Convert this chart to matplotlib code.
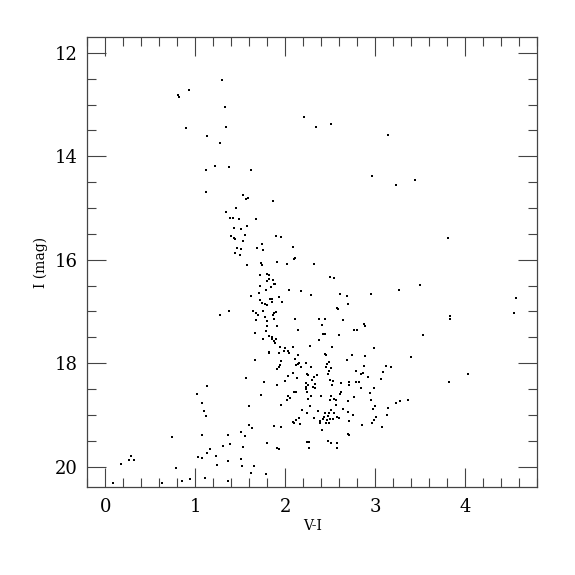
import numpy as np
import matplotlib.pyplot as plt

# colour (V-I) and I magnitude
vi = [
    1.301, 0.930, 0.812, 0.815, 1.330, 0.901, 1.345, 1.134, 1.278, 1.216, 1.119, 1.371,
    2.211, 2.344, 2.511, 1.619, 2.963,
    3.145, 3.445, 3.230,
    1.119, 1.449, 1.338, 1.382, 1.419, 1.434, 1.397, 1.434, 1.445, 1.438, 1.379, 1.278,
    1.533, 1.567, 1.585, 1.859, 1.482, 1.674, 1.507, 1.578, 1.548, 1.896, 1.956, 1.533,
    1.741, 1.463, 1.507, 1.689, 1.752, 2.081, 1.500, 2.107, 2.096, 1.911, 2.019, 2.315,
    1.578, 1.730, 1.741, 1.793, 1.815, 1.722, 1.863, 1.796, 1.819, 1.870, 1.881, 1.722,
    2.500, 2.537, 1.785, 1.837, 2.041, 2.170, 1.619, 1.704, 1.926, 2.285, 2.604, 2.689,
    2.948, 1.833, 1.848, 1.719, 1.848, 1.959, 1.737, 1.774, 1.800, 2.574, 2.589, 2.696,
    1.641, 1.674, 1.700, 1.756, 1.874, 1.896, 1.774, 1.863, 1.674, 1.796, 1.870, 2.111,
    2.374, 2.437, 2.641, 1.793, 1.911, 2.411, 2.870, 2.881, 1.781, 2.141, 2.759, 2.793,
    1.659, 1.815, 1.848, 2.422, 2.444, 2.593,
    3.804, 3.493, 3.260, 4.567, 4.537, 3.834, 3.834, 3.530,
    1.756, 1.848, 1.870, 1.893, 1.882, 2.374, 2.274, 2.519, 1.944, 1.993, 2.026, 2.037,
    1.985, 1.933, 2.089, 1.819, 1.822, 2.137, 2.444, 2.456, 2.741, 2.885, 2.981, 1.667,
    2.107, 1.952, 2.152, 2.141, 2.122, 2.226, 2.685, 2.485, 2.463, 2.448, 2.289, 2.174,
    1.937, 1.926, 1.907, 2.878, 2.781, 2.863, 2.837, 2.504, 2.489, 2.081, 2.237, 2.252,
    2.348, 2.315, 2.300, 2.474, 3.085, 3.115, 1.559, 2.030, 2.130, 2.000, 1.759, 2.533,
    2.496, 2.711, 2.785, 2.822, 2.622, 2.704, 3.067, 2.919, 1.911, 2.326, 2.307, 2.230,
    2.226, 2.252, 2.233, 2.519, 2.837, 2.985, 2.333, 2.093, 2.115, 2.244, 2.619, 2.611,
    2.937, 1.726, 2.026, 2.056, 2.015, 2.252, 2.281, 2.393, 2.507, 2.496, 2.541, 2.563,
    2.759, 2.952, 2.696, 1.948, 1.593, 2.270, 2.567, 2.993, 2.970, 2.181, 2.363, 2.437,
    2.489, 2.537, 2.507, 2.244, 2.637, 2.700, 2.748, 3.130, 2.319, 2.148, 2.122, 2.474,
    2.459, 2.415, 2.433, 2.493, 2.526, 2.578, 2.596, 2.381, 2.385, 2.456, 2.485, 2.707,
    3.007, 2.981, 2.963, 2.085, 2.159, 2.093, 1.870, 1.948, 1.600, 1.633, 2.411, 2.856,
    3.074, 2.696, 2.704, 1.511, 1.548, 1.793, 2.237, 2.263, 2.259, 2.474, 2.507, 2.570,
    2.570, 1.911, 1.926, 1.530, 1.507, 1.522, 1.648, 1.622, 1.785,
    1.130, 1.019, 1.075, 1.093, 1.123, 0.738, 1.075, 1.364, 1.382, 1.312, 1.164, 1.130,
    1.027, 1.075, 1.234, 1.238, 1.360, 0.790, 0.282, 0.267, 0.316, 0.178, 0.082, 0.634,
    0.856, 0.938, 1.104, 1.364,
    3.400, 3.171, 3.815, 4.026, 3.141, 3.230, 3.271, 3.363,
]
imag = [
    12.526, 12.719, 12.822, 12.848, 13.054, 13.454, 13.428, 13.608, 13.737, 14.195, 14.259, 14.207,
    13.241, 13.441, 13.383, 14.259, 14.375,
    13.595, 14.452, 14.555,
    14.691, 15.000, 15.078, 15.187, 15.187, 15.394, 15.535, 15.587, 15.600, 15.877, 16.985, 17.063,
    14.743, 14.820, 14.807, 14.872, 15.213, 15.213, 15.400, 15.349, 15.522, 15.542, 15.568, 15.638,
    15.703, 15.774, 15.787, 15.774, 15.812, 15.748, 15.903, 15.961, 15.986, 16.038, 16.090, 16.090,
    16.109, 16.070, 16.109, 16.276, 16.302, 16.296, 16.392, 16.405, 16.367, 16.470, 16.470, 16.502,
    16.334, 16.354, 16.586, 16.534, 16.579, 16.611, 16.695, 16.650, 16.721, 16.689, 16.657, 16.695,
    16.663, 16.753, 16.753, 16.779, 16.811, 16.818, 16.837, 16.856, 16.882, 16.934, 16.953, 16.863,
    16.985, 17.030, 17.069, 16.985, 17.037, 17.011, 17.114, 17.075, 17.172, 17.185, 17.146, 17.146,
    17.146, 17.146, 17.172, 17.275, 17.275, 17.256, 17.249, 17.288, 17.378, 17.365, 17.352, 17.365,
    17.423, 17.481, 17.488, 17.430, 17.430, 17.462,
    15.580, 16.489, 16.586, 16.747, 17.030, 17.082, 17.140, 17.462,
    17.527, 17.527, 17.578, 17.527, 17.617, 17.546, 17.662, 17.682, 17.694, 17.707, 17.759, 17.797,
    17.772, 17.797, 17.694, 17.785, 17.810, 17.836, 17.823, 17.849, 17.849, 17.868, 17.707, 17.946,
    17.926, 17.965, 17.991, 18.023, 18.029, 17.997, 17.933, 17.978, 18.017, 18.081, 18.081, 18.075,
    18.029, 18.068, 18.107, 18.062, 18.145, 18.184, 18.203, 18.094, 18.145, 18.197, 18.203, 18.236,
    18.223, 18.274, 18.326, 18.216, 18.178, 18.062, 18.287, 18.249, 18.287, 18.352, 18.358, 18.339,
    18.326, 18.358, 18.358, 18.371, 18.390, 18.423, 18.313, 18.274, 18.423, 18.403, 18.455, 18.455,
    18.493, 18.416, 18.384, 18.423, 18.474, 18.487, 18.480, 18.551, 18.551, 18.564, 18.558, 18.596,
    18.571, 18.609, 18.635, 18.667, 18.719, 18.693, 18.641, 18.635, 18.641, 18.712, 18.693, 18.719,
    18.654, 18.712, 18.725, 18.816, 18.822, 18.822, 18.803, 18.835, 18.880, 18.912, 18.925, 18.957,
    18.957, 18.970, 18.899, 18.957, 18.893, 18.951, 19.002, 18.996, 19.060, 19.067, 19.099, 19.015,
    19.093, 19.086, 19.048, 19.086, 19.073, 19.041, 19.054, 19.118, 19.157, 19.157, 19.157, 19.112,
    19.041, 19.093, 19.151, 19.131, 19.176, 19.163, 19.209, 19.234, 19.196, 19.254, 19.286, 19.189,
    19.241, 19.363, 19.382, 19.337, 19.415, 19.550, 19.531, 19.531, 19.647, 19.505, 19.544, 19.537,
    19.634, 19.647, 19.666, 19.614, 19.853, 19.988, 19.988, 20.124, 20.137,
    18.435, 18.596, 18.764, 18.925, 19.015, 19.428, 19.395, 19.395, 19.557, 19.602, 19.653, 19.737,
    19.808, 19.834, 19.802, 19.963, 19.892, 20.027, 19.789, 19.872, 19.866, 19.950, 20.310, 20.323,
    20.285, 20.240, 20.227, 20.272,
    17.881, 18.075, 18.358, 18.216, 18.867, 18.777, 18.725, 18.712,
]

xticks = [0, 1, 2, 3, 4]
yticks = [12, 14, 16, 18, 20]

plt.rcParams['font.family'] = ['DejaVu Serif']

fig = plt.figure(figsize=(5.75, 5.75), dpi=100)
ax = fig.add_axes([0.1518, 0.1525, 0.7826, 0.7825])

ax.plot(vi, imag, 's', color='black', markersize=1.7, markeredgewidth=0)

ax.set_xlim(-0.2, 4.8)
ax.set_ylim(20.4, 11.7)
ax.set_xticks(xticks)
ax.set_yticks(yticks)
ax.set_xticks(np.arange(-0.2, 4.81, 0.2), minor=True)
ax.set_yticks(np.arange(12, 20.4, 0.5), minor=True)

ax.tick_params(which='both', direction='in', top=True, right=True, width=0.8, color='#444444')
ax.tick_params(which='major', length=13.5, labelsize=13, pad=7)
ax.tick_params(which='minor', length=6.5)
ax.tick_params(axis='x', which='major', pad=8)
for s in ax.spines.values():
    s.set_linewidth(0.9)
    s.set_color('#444444')

ax.set_xlabel('V-I', fontsize=10, labelpad=2)
ax.set_ylabel('I (mag)', fontsize=10, labelpad=5)

plt.savefig('out.png', dpi=100)
